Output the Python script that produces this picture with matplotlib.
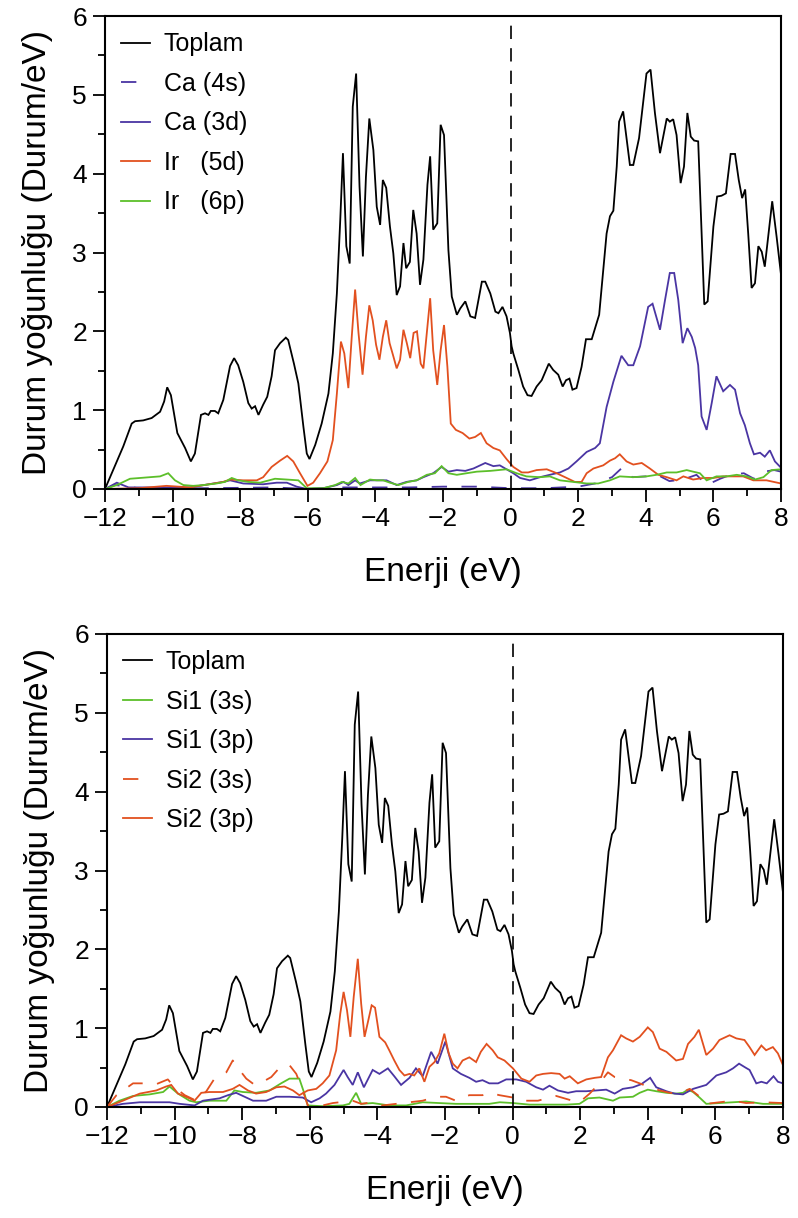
import numpy as np
import matplotlib
matplotlib.use("Agg")
import matplotlib.pyplot as plt
from matplotlib.ticker import MultipleLocator

plt.rcParams['font.family'] = ['Liberation Sans', 'DejaVu Sans']

# ---------------- data (energy eV, DOS states/eV) ----------------
TOTAL = np.array([
    [-12, 0], [-11.65, 0.35], [-11.46, 0.54], [-11.21, 0.83], [-11.11, 0.86], [-10.87, 0.87],
    [-10.62, 0.9], [-10.37, 0.98], [-10.25, 1.11], [-10.16, 1.29], [-10.05, 1.19], [-9.86, 0.71],
    [-9.63, 0.52], [-9.46, 0.35], [-9.34, 0.45], [-9.16, 0.94], [-9.04, 0.96], [-8.94, 0.94],
    [-8.87, 0.99], [-8.75, 0.99], [-8.65, 0.96], [-8.5, 1.13], [-8.3, 1.56], [-8.18, 1.66],
    [-8.06, 1.57], [-7.91, 1.36], [-7.76, 1.09], [-7.66, 1.02], [-7.56, 1.05], [-7.46, 0.94],
    [-7.32, 1.07], [-7.2, 1.17], [-7.07, 1.43], [-6.97, 1.76], [-6.82, 1.85], [-6.65, 1.92],
    [-6.58, 1.89], [-6.41, 1.59], [-6.28, 1.34], [-6.13, 0.79], [-6.03, 0.45], [-5.95, 0.38],
    [-5.78, 0.56], [-5.59, 0.83], [-5.39, 1.21], [-5.26, 1.72], [-5.14, 2.48], [-5.04, 3.41],
    [-4.96, 4.26], [-4.86, 3.08], [-4.76, 2.86], [-4.67, 4.85], [-4.57, 5.27], [-4.47, 3.84],
    [-4.37, 2.95], [-4.28, 3.96], [-4.18, 4.70], [-4.06, 4.30], [-3.96, 3.58], [-3.86, 3.35],
    [-3.78, 3.92], [-3.68, 3.82], [-3.57, 3.33], [-3.47, 2.99], [-3.37, 2.46], [-3.27, 2.57],
    [-3.17, 3.12], [-3.09, 2.80], [-2.98, 2.88], [-2.88, 3.54], [-2.78, 3.24], [-2.68, 2.59],
    [-2.58, 2.91], [-2.46, 3.86], [-2.38, 4.22], [-2.29, 3.29], [-2.17, 3.37], [-2.07, 4.62],
    [-1.97, 4.49], [-1.84, 3.03], [-1.74, 2.44], [-1.59, 2.21], [-1.49, 2.29], [-1.34, 2.38],
    [-1.19, 2.19], [-1.05, 2.17], [-0.85, 2.63], [-0.75, 2.63], [-0.60, 2.48], [-0.45, 2.25],
    [-0.36, 2.23], [-0.24, 2.31], [-0.12, 2.19], [-0.02, 1.98], [0.03, 1.81], [0.08, 1.72],
    [0.23, 1.51], [0.37, 1.30], [0.50, 1.19], [0.62, 1.18], [0.77, 1.30], [0.92, 1.38],
    [1.13, 1.59], [1.26, 1.51], [1.41, 1.45], [1.54, 1.30], [1.64, 1.38], [1.74, 1.40],
    [1.83, 1.26], [1.95, 1.28], [2.10, 1.55], [2.23, 1.90], [2.40, 1.90], [2.62, 2.21],
    [2.74, 2.78], [2.84, 3.24], [2.94, 3.46], [3.04, 3.53], [3.14, 4.09], [3.21, 4.66],
    [3.33, 4.79], [3.53, 4.11], [3.63, 4.11], [3.80, 4.45], [4.02, 5.27], [4.14, 5.32],
    [4.27, 4.77], [4.42, 4.26], [4.62, 4.70], [4.71, 4.66], [4.81, 4.69], [4.91, 4.49],
    [5.03, 3.88], [5.13, 4.09], [5.23, 4.77], [5.33, 4.47], [5.43, 4.42], [5.55, 4.41],
    [5.73, 2.34], [5.83, 2.38], [6.00, 3.33], [6.11, 3.71], [6.24, 3.72], [6.37, 3.75],
    [6.51, 4.25], [6.64, 4.25], [6.75, 3.92], [6.85, 3.69], [6.94, 3.80], [7.03, 3.24],
    [7.13, 2.55], [7.23, 2.61], [7.33, 3.08], [7.43, 3.01], [7.52, 2.82], [7.62, 3.20],
    [7.74, 3.65], [7.87, 3.20], [8.0, 2.72]])

CA_4S = np.array([
    [-12, 0], [-11.7, 0.05], [-11.0, 0.01], [-9.0, 0.01], [-7.0, 0.02], [-6.0, 0.0],
    [-5.0, 0.02], [-4.0, 0.02], [-3.0, 0.02], [-2.0, 0.03], [-1.0, 0.03], [0.0, 0.01],
    [1.0, 0.01], [2.0, 0.03], [2.5, 0.07], [3.0, 0.15], [3.3, 0.27], [3.6, 0.15], [4.0, 0.16],
    [4.3, 0.19], [4.7, 0.10], [5.1, 0.12], [5.5, 0.18], [5.8, 0.05], [6.2, 0.13], [6.5, 0.18],
    [6.9, 0.20], [7.2, 0.13], [7.5, 0.22], [7.8, 0.24], [8.0, 0.22]])

CA_3D = np.array([
    [-12, 0], [-11.65, 0.08], [-11.3, 0.02], [-9.5, 0.02], [-8.5, 0.09], [-8.3, 0.11],
    [-7.91, 0.07], [-7.32, 0.06], [-6.92, 0.08], [-6.62, 0.08], [-6.33, 0.03], [-6.03, 0.0],
    [-5.54, 0.01], [-5.14, 0.05], [-4.94, 0.09], [-4.80, 0.05], [-4.60, 0.11], [-4.46, 0.07],
    [-4.16, 0.11], [-3.86, 0.11], [-3.67, 0.11], [-3.37, 0.05], [-3.08, 0.09], [-2.78, 0.11],
    [-2.58, 0.15], [-2.29, 0.20], [-2.04, 0.28], [-1.84, 0.22], [-1.59, 0.24], [-1.34, 0.23],
    [-1.10, 0.26], [-0.75, 0.33], [-0.51, 0.29], [-0.32, 0.30], [-0.12, 0.25], [0.08, 0.20],
    [0.28, 0.14], [0.57, 0.11], [0.87, 0.15], [1.16, 0.18], [1.46, 0.21], [1.71, 0.26],
    [1.95, 0.35], [2.25, 0.47], [2.50, 0.52], [2.64, 0.58], [2.84, 1.04], [3.04, 1.36],
    [3.28, 1.69], [3.48, 1.57], [3.63, 1.57], [3.83, 1.81], [4.07, 2.31], [4.20, 2.35],
    [4.42, 2.02], [4.57, 2.40], [4.71, 2.74], [4.84, 2.74], [4.96, 2.40], [5.09, 1.85],
    [5.23, 2.04], [5.36, 1.93], [5.46, 1.79], [5.55, 1.57], [5.65, 0.92], [5.80, 0.75],
    [5.95, 1.09], [6.09, 1.43], [6.29, 1.24], [6.49, 1.32], [6.64, 1.26], [6.79, 0.96],
    [6.93, 0.81], [7.08, 0.58], [7.20, 0.44], [7.38, 0.46], [7.52, 0.41], [7.67, 0.49],
    [7.82, 0.35], [8.0, 0.27]])

IR_5D = np.array([
    [-12, 0], [-11.0, 0.01], [-10.18, 0.04], [-9.49, 0.02], [-8.5, 0.09], [-8.3, 0.12],
    [-7.91, 0.11], [-7.51, 0.11], [-7.32, 0.15], [-7.07, 0.28], [-6.82, 0.36], [-6.61, 0.42],
    [-6.43, 0.35], [-6.23, 0.20], [-6.01, 0.04], [-5.84, 0.08], [-5.64, 0.20], [-5.42, 0.35],
    [-5.26, 0.62], [-5.14, 1.21], [-5.02, 1.87], [-4.92, 1.72], [-4.80, 1.28], [-4.70, 1.93],
    [-4.60, 2.53], [-4.50, 1.98], [-4.38, 1.45], [-4.28, 1.93], [-4.18, 2.33], [-4.08, 2.14],
    [-3.98, 1.83], [-3.88, 1.64], [-3.78, 1.93], [-3.68, 2.14], [-3.58, 1.85], [-3.48, 1.70],
    [-3.37, 1.53], [-3.27, 1.64], [-3.17, 2.02], [-3.07, 1.85], [-2.97, 1.66], [-2.87, 1.98],
    [-2.77, 2.00], [-2.66, 1.59], [-2.58, 1.53], [-2.47, 2.02], [-2.38, 2.42], [-2.29, 1.76],
    [-2.17, 1.32], [-2.07, 1.76], [-1.97, 2.08], [-1.87, 1.55], [-1.77, 0.83], [-1.62, 0.75],
    [-1.42, 0.71], [-1.22, 0.64], [-1.05, 0.66], [-0.88, 0.71], [-0.71, 0.58], [-0.51, 0.52],
    [-0.32, 0.49], [-0.12, 0.38], [0.08, 0.28], [0.33, 0.21], [0.52, 0.21], [0.77, 0.24],
    [1.07, 0.25], [1.31, 0.21], [1.61, 0.15], [1.90, 0.09], [2.10, 0.09], [2.25, 0.20],
    [2.45, 0.26], [2.74, 0.30], [2.94, 0.36], [3.09, 0.39], [3.23, 0.44], [3.43, 0.35],
    [3.63, 0.31], [3.88, 0.33], [4.12, 0.26], [4.37, 0.18], [4.62, 0.15], [4.91, 0.11],
    [5.11, 0.16], [5.40, 0.12], [5.70, 0.14], [6.00, 0.14], [6.29, 0.16], [6.59, 0.16],
    [6.88, 0.16], [7.18, 0.11], [7.57, 0.11], [8.0, 0.07]])

IR_6P = np.array([
    [-12, 0], [-11.65, 0.05], [-11.26, 0.13], [-10.96, 0.14], [-10.67, 0.15], [-10.37, 0.16],
    [-10.13, 0.20], [-9.93, 0.11], [-9.68, 0.05], [-9.39, 0.04], [-9.09, 0.05], [-8.70, 0.07],
    [-8.45, 0.09], [-8.25, 0.14], [-8.06, 0.11], [-7.76, 0.09], [-7.41, 0.08], [-6.97, 0.13],
    [-6.62, 0.12], [-6.28, 0.11], [-6.03, 0.01], [-5.54, 0.01], [-5.19, 0.05], [-4.99, 0.09],
    [-4.80, 0.07], [-4.60, 0.14], [-4.44, 0.05], [-4.16, 0.12], [-3.96, 0.11], [-3.77, 0.11],
    [-3.57, 0.08], [-3.32, 0.05], [-3.03, 0.09], [-2.78, 0.11], [-2.48, 0.18], [-2.24, 0.20],
    [-2.04, 0.29], [-1.84, 0.20], [-1.59, 0.18], [-1.30, 0.20], [-1.0, 0.22], [-0.6, 0.23],
    [-0.12, 0.25], [0.18, 0.20], [0.47, 0.16], [0.87, 0.15], [1.16, 0.16], [1.46, 0.11],
    [1.85, 0.09], [2.25, 0.07], [2.59, 0.07], [2.94, 0.11], [3.23, 0.16], [3.63, 0.15],
    [4.02, 0.16], [4.32, 0.18], [4.62, 0.21], [4.91, 0.21], [5.21, 0.24], [5.40, 0.22],
    [5.60, 0.20], [5.80, 0.11], [6.09, 0.16], [6.39, 0.16], [6.69, 0.18], [6.98, 0.16],
    [7.23, 0.12], [7.48, 0.15], [7.72, 0.24], [8.0, 0.25]])

SI1_3S = np.array([
    [-12, 0], [-11.63, 0.08], [-11.23, 0.14], [-10.74, 0.16], [-10.34, 0.19], [-10.15, 0.26],
    [-9.90, 0.17], [-9.56, 0.08], [-9.36, 0.06], [-8.97, 0.08], [-8.47, 0.08], [-8.23, 0.21],
    [-7.98, 0.19], [-7.59, 0.18], [-7.19, 0.21], [-6.85, 0.30], [-6.60, 0.36], [-6.31, 0.36],
    [-6.16, 0.17], [-6.06, 0.02], [-5.62, 0.01], [-5.02, 0.02], [-4.83, 0.04], [-4.63, 0.18],
    [-4.48, 0.04], [-4.14, 0.05], [-3.65, 0.02], [-3.15, 0.02], [-2.66, 0.06], [-2.17, 0.05],
    [-1.68, 0.04], [-0.69, 0.04], [-0.38, 0.06], [0.01, 0.05], [0.50, 0.03], [1.0, 0.03],
    [1.59, 0.03], [1.98, 0.04], [2.23, 0.11], [2.57, 0.12], [2.97, 0.08], [3.17, 0.12],
    [3.56, 0.13], [3.76, 0.18], [4.0, 0.22], [4.25, 0.20], [4.55, 0.18], [4.84, 0.17],
    [5.04, 0.18], [5.19, 0.22], [5.34, 0.19], [5.53, 0.12], [5.73, 0.04], [6.12, 0.05],
    [6.52, 0.06], [6.91, 0.07], [7.41, 0.04], [8.0, 0.04]])

SI1_3P = np.array([
    [-12, 0], [-11.53, 0.04], [-11.03, 0.06], [-10.54, 0.06], [-10.15, 0.06], [-9.85, 0.04],
    [-9.41, 0.02], [-9.16, 0.08], [-8.67, 0.11], [-8.42, 0.15], [-8.18, 0.18], [-7.98, 0.14],
    [-7.68, 0.08], [-7.29, 0.08], [-6.99, 0.13], [-6.60, 0.13], [-6.21, 0.12], [-5.96, 0.06],
    [-5.71, 0.11], [-5.52, 0.17], [-5.27, 0.28], [-5.0, 0.47], [-4.88, 0.38], [-4.73, 0.28],
    [-4.58, 0.44], [-4.40, 0.25], [-4.14, 0.47], [-3.94, 0.42], [-3.69, 0.49], [-3.50, 0.39],
    [-3.30, 0.28], [-3.05, 0.37], [-2.86, 0.49], [-2.66, 0.39], [-2.41, 0.70], [-2.22, 0.55],
    [-1.99, 0.83], [-1.77, 0.49], [-1.53, 0.42], [-1.28, 0.37], [-1.08, 0.32], [-0.89, 0.34],
    [-0.69, 0.30], [-0.43, 0.30], [-0.19, 0.35], [0.11, 0.35], [0.40, 0.32], [0.70, 0.25],
    [0.90, 0.22], [1.09, 0.27], [1.34, 0.21], [1.64, 0.18], [1.88, 0.20], [2.18, 0.20],
    [2.48, 0.21], [2.77, 0.22], [3.02, 0.17], [3.26, 0.23], [3.56, 0.25], [3.81, 0.29],
    [4.07, 0.37], [4.25, 0.25], [4.55, 0.20], [4.79, 0.17], [5.04, 0.16], [5.34, 0.23],
    [5.73, 0.28], [6.03, 0.40], [6.32, 0.44], [6.52, 0.49], [6.70, 0.55], [6.89, 0.50],
    [7.01, 0.47], [7.21, 0.30], [7.36, 0.32], [7.52, 0.30], [7.72, 0.39], [7.85, 0.32],
    [8.0, 0.30]])

SI2_3S = np.array([
    [-12, 0], [-11.72, 0.15], [-11.23, 0.30], [-10.94, 0.30], [-10.54, 0.29], [-10.20, 0.35],
    [-10.0, 0.25], [-9.70, 0.15], [-9.36, 0.08], [-9.06, 0.20], [-8.82, 0.36], [-8.47, 0.44],
    [-8.28, 0.59], [-8.08, 0.47], [-7.88, 0.36], [-7.63, 0.28], [-7.39, 0.32], [-7.14, 0.38],
    [-6.85, 0.52], [-6.60, 0.53], [-6.40, 0.42], [-6.21, 0.21], [-6.06, 0.02], [-5.62, 0.02],
    [-5.32, 0.05], [-4.93, 0.07], [-4.73, 0.08], [-4.48, 0.04], [-4.14, 0.06], [-3.84, 0.02],
    [-3.45, 0.04], [-3.05, 0.06], [-2.66, 0.08], [-2.27, 0.13], [-1.97, 0.13], [-1.68, 0.08],
    [-1.28, 0.15], [-0.89, 0.15], [-0.69, 0.18], [-0.39, 0.15], [0.01, 0.12], [0.31, 0.08],
    [0.75, 0.08], [1.29, 0.14], [1.69, 0.09], [1.98, 0.06], [2.28, 0.17], [2.57, 0.30],
    [2.82, 0.44], [3.02, 0.38], [3.26, 0.36], [3.51, 0.34], [3.76, 0.30], [4.05, 0.25],
    [4.35, 0.21], [4.65, 0.18], [4.94, 0.17], [5.24, 0.23], [5.48, 0.15], [5.73, 0.04],
    [6.12, 0.06], [6.52, 0.08], [6.91, 0.05], [7.41, 0.06], [8.0, 0.05]])

SI2_3P = np.array([
    [-12, 0], [-11.53, 0.08], [-11.03, 0.17], [-10.54, 0.21], [-10.25, 0.26], [-10.10, 0.28],
    [-9.90, 0.17], [-9.61, 0.12], [-9.41, 0.08], [-9.21, 0.18], [-8.97, 0.19], [-8.57, 0.19],
    [-8.28, 0.23], [-8.08, 0.28], [-7.83, 0.21], [-7.59, 0.17], [-7.29, 0.19], [-6.99, 0.25],
    [-6.75, 0.26], [-6.50, 0.21], [-6.31, 0.15], [-6.06, 0.21], [-5.81, 0.23], [-5.62, 0.30],
    [-5.42, 0.40], [-5.22, 0.72], [-5.10, 1.18], [-5.0, 1.46], [-4.90, 1.23], [-4.80, 0.89],
    [-4.70, 1.40], [-4.58, 1.88], [-4.48, 1.31], [-4.38, 0.89], [-4.29, 1.06], [-4.17, 1.29],
    [-4.07, 1.26], [-3.94, 0.89], [-3.77, 0.82], [-3.65, 0.72], [-3.50, 0.59], [-3.35, 0.47],
    [-3.20, 0.40], [-3.05, 0.42], [-2.91, 0.40], [-2.76, 0.49], [-2.61, 0.32], [-2.46, 0.51],
    [-2.31, 0.57], [-2.17, 0.68], [-2.02, 0.93], [-1.89, 0.68], [-1.77, 0.55], [-1.63, 0.49],
    [-1.48, 0.59], [-1.28, 0.63], [-1.08, 0.57], [-0.94, 0.70], [-0.77, 0.80], [-0.59, 0.72],
    [-0.44, 0.63], [-0.24, 0.59], [0.01, 0.49], [0.26, 0.36], [0.50, 0.32], [0.70, 0.40],
    [0.90, 0.42], [1.14, 0.43], [1.39, 0.42], [1.54, 0.36], [1.69, 0.39], [1.93, 0.30],
    [2.18, 0.35], [2.43, 0.37], [2.62, 0.38], [2.82, 0.63], [2.97, 0.72], [3.21, 0.91],
    [3.36, 0.87], [3.56, 0.83], [3.76, 0.89], [4.0, 1.01], [4.15, 0.95], [4.35, 0.74],
    [4.55, 0.70], [4.84, 0.59], [5.04, 0.61], [5.19, 0.80], [5.38, 0.89], [5.51, 0.98],
    [5.73, 0.66], [5.93, 0.74], [6.12, 0.85], [6.42, 0.91], [6.62, 0.87], [6.86, 0.85],
    [7.01, 0.76], [7.16, 0.66], [7.36, 0.78], [7.50, 0.72], [7.70, 0.76], [7.85, 0.68],
    [8.0, 0.53]])

X_TICKS = [-12, -10, -8, -6, -4, -2, 0, 2, 4, 6, 8]
Y_TICKS = [0, 1, 2, 3, 4, 5, 6]
XLABEL = "Enerji (eV)"
YLABEL = "Durum yoğunluğu (Durum/eV)"

BLACK = "#000000"
PURPLE = "#4a35a3"
RED = "#e2501f"
GREEN = "#5cbf2a"

TOP_SERIES = [
    ("Toplam", TOTAL, BLACK, "-"),
    ("Ca (4s)", CA_4S, PURPLE, "--"),
    ("Ca (3d)", CA_3D, PURPLE, "-"),
    ("Ir   (5d)", IR_5D, RED, "-"),
    ("Ir   (6p)", IR_6P, GREEN, "-"),
]
BOTTOM_SERIES = [
    ("Toplam", TOTAL, BLACK, "-"),
    ("Si1 (3s)", SI1_3S, GREEN, "-"),
    ("Si1 (3p)", SI1_3P, PURPLE, "-"),
    ("Si2 (3s)", SI2_3S, RED, "--"),
    ("Si2 (3p)", SI2_3P, RED, "-"),
]

W, H = 798, 1218
fig = plt.figure(figsize=(W / 100, H / 100), dpi=100)


def make_axes(l, r, t, b):
    return fig.add_axes([l / W, 1 - b / H, (r - l) / W, (b - t) / H])


def draw(ax, series):
    for label, arr, color, ls in series:
        line, = ax.plot(arr[:, 0], arr[:, 1], color=color, lw=1.3, label=label,
                        solid_joinstyle='miter')
        if ls == "--":
            line.set_dashes([8.5, 8])
    ax.axvline(0, color="black", lw=1.2, dashes=(8, 5.5))
    ax.set_xlim(-12, 8)
    ax.set_ylim(0, 6)
    ax.set_xticks(X_TICKS)
    ax.set_yticks(Y_TICKS)
    ax.xaxis.set_minor_locator(MultipleLocator(1))
    ax.yaxis.set_minor_locator(MultipleLocator(0.5))
    ax.tick_params(which='major', direction='out', length=9, width=1.3, labelsize=19, pad=4)
    ax.tick_params(which='minor', direction='out', length=5, width=1.3)
    for s in ax.spines.values():
        s.set_linewidth(1.5)
    ax.set_xlabel(XLABEL, fontsize=24, labelpad=19)
    ax.set_ylabel(YLABEL, fontsize=24, labelpad=14)
    leg = ax.legend(loc='upper left', frameon=False, fontsize=18, handlelength=1.15,
                    handletextpad=0.55, labelspacing=0.62, borderaxespad=0.25,
                    borderpad=0.4)
    return leg


ax1 = make_axes(105, 781, 16, 489)
draw(ax1, TOP_SERIES)
ax2 = make_axes(107, 783, 634, 1107)
draw(ax2, BOTTOM_SERIES)

fig.savefig("out.png", dpi=100)
